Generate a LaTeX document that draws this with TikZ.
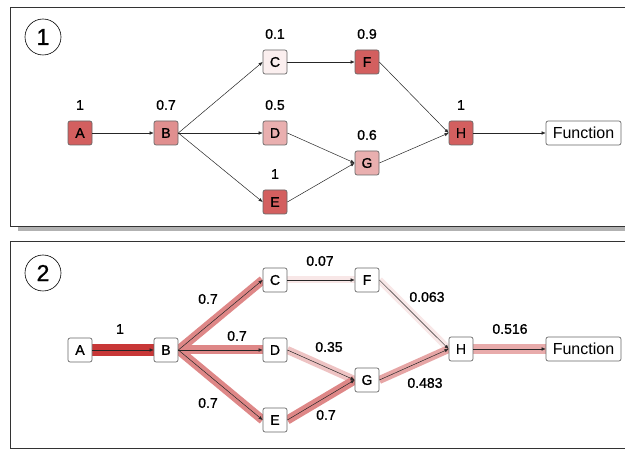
\documentclass[tikz,border=0pt]{standalone}
\usepackage{fontspec}
\setmainfont{Liberation Sans}
\newfontfamily\markfont{Liberation Sans}[FakeBold=1.2]
\usetikzlibrary{arrows.meta,backgrounds,calc}

\definecolor{heat}{HTML}{D35F5F}
\definecolor{flow}{HTML}{C83737}

\tikzstyle{unit}=[rectangle,draw=black!60,line width=0.7pt,rounded corners=0.4ex,minimum height=24pt,minimum width=24pt,inner sep=0pt,font=\markfont\fontsize{14}{16}\selectfont]
\tikzstyle{val}=[font=\markfont\fontsize{14}{16}\selectfont,inner sep=1pt]
\tikzstyle{edge}=[-{Latex[length=4pt,width=3.5pt]},line width=0.5pt,black!85]
\tikzstyle{panel}=[draw=black!80,line width=0.8pt]

\newcommand\Unit[6]{
  \node[unit,fill=heat!#6] (#1) at (#2,#3) {#4};
  \node[val] (#1val) at (#2,#3-28) {#5};
}
\newcommand\Plain[4]{
  \node[unit,fill=white] (#1) at (#2,#3) {#4};
}
\newcommand\Flow[4]{
  \begin{pgfonlayer}{background}
    \fill[flow!#4] ($(#1.east)!#3/2!90:(#2.west)$) -- ($(#2.west)!#3/2!-90:(#1.east)$)
      -- ($(#2.west)!#3/2!90:(#1.east)$) -- ($(#1.east)!#3/2!-90:(#2.west)$) -- cycle;
  \end{pgfonlayer}
  \draw[edge] (#1.east) -- (#2.west);
}

\begin{document}
\begin{tikzpicture}[x=1pt,y=-1pt]
  \useasboundingbox (0,0) rectangle (625,449);

  % panel 1
  \fill[black!30] (18,227) rectangle (640,231);
  \draw[panel,fill=white] (10,7) rectangle (640,226);
  \node[circle,draw,line width=0.6pt,minimum size=36pt,inner sep=0pt,font=\markfont\fontsize{23}{25}\selectfont] (one) at (43,37) {1};
  \Unit{a1}{80}{133}{A}{1}{100}
  \Unit{b1}{166}{133}{B}{0.7}{70}
  \Unit{c1}{275}{62}{C}{0.1}{10}
  \Unit{d1}{275}{133}{D}{0.5}{50}
  \Unit{e1}{275}{202}{E}{1}{100}
  \Unit{f1}{367}{62}{F}{0.9}{100}
  \Unit{g1}{367}{163}{G}{0.6}{50}
  \Unit{h1}{461}{133}{H}{1}{100}
  \node[unit,fill=white,minimum width=75pt,font=\fontsize{16}{18}\selectfont] (fun1) at (583.5,133) {Function};
  \draw[edge] (a1.east) -- (b1.west);
  \draw[edge] (b1.east) -- (c1.west);
  \draw[edge] (b1.east) -- (d1.west);
  \draw[edge] (b1.east) -- (e1.west);
  \draw[edge] (c1.east) -- (f1.west);
  \draw[edge] (d1.east) -- (g1.west);
  \draw[edge] (e1.east) -- (g1.west);
  \draw[edge] (f1.east) -- (h1.west);
  \draw[edge] (g1.east) -- (h1.west);
  \draw[edge] (h1.east) -- (fun1.west);

  % panel 2
  \draw[panel] (10,241) rectangle (640,448);
  \node[circle,draw,line width=0.6pt,minimum size=36pt,inner sep=0pt,font=\markfont\fontsize{23}{25}\selectfont] (two) at (43,273) {2};
  \Plain{a2}{80}{350}{A}
  \Plain{b2}{166}{350}{B}
  \Plain{c2}{275}{280}{C}
  \Plain{d2}{275}{350}{D}
  \Plain{e2}{275}{420}{E}
  \Plain{f2}{367}{280}{F}
  \Plain{g2}{367}{380}{G}
  \Plain{h2}{461}{349}{H}
  \node[unit,fill=white,minimum width=75pt,font=\fontsize{16}{18}\selectfont] (fun2) at (583.5,349) {Function};
  \Flow{a2}{b2}{12pt}{100}
  \Flow{b2}{c2}{9pt}{60}
  \Flow{b2}{d2}{9pt}{60}
  \Flow{b2}{e2}{9pt}{60}
  \Flow{c2}{f2}{7pt}{12}
  \Flow{d2}{g2}{8pt}{30}
  \Flow{e2}{g2}{9pt}{60}
  \Flow{f2}{h2}{7pt}{12}
  \Flow{g2}{h2}{8pt}{45}
  \Flow{h2}{fun2}{10pt}{42}

  \node[val] (ab) at (120,329) {1};
  \node[val] (bc) at (208,299) {0.7};
  \node[val] (bd) at (237,336) {0.7};
  \node[val] (be) at (208,403) {0.7};
  \node[val] (cf) at (320,261) {0.07};
  \node[val] (dg) at (329,347) {0.35};
  \node[val] (eg) at (326,415) {0.7};
  \node[val] (fh) at (427,297) {0.063};
  \node[val] (gh) at (425,383) {0.483};
  \node[val] (hf) at (510,329) {0.516};
\end{tikzpicture}
\end{document}
